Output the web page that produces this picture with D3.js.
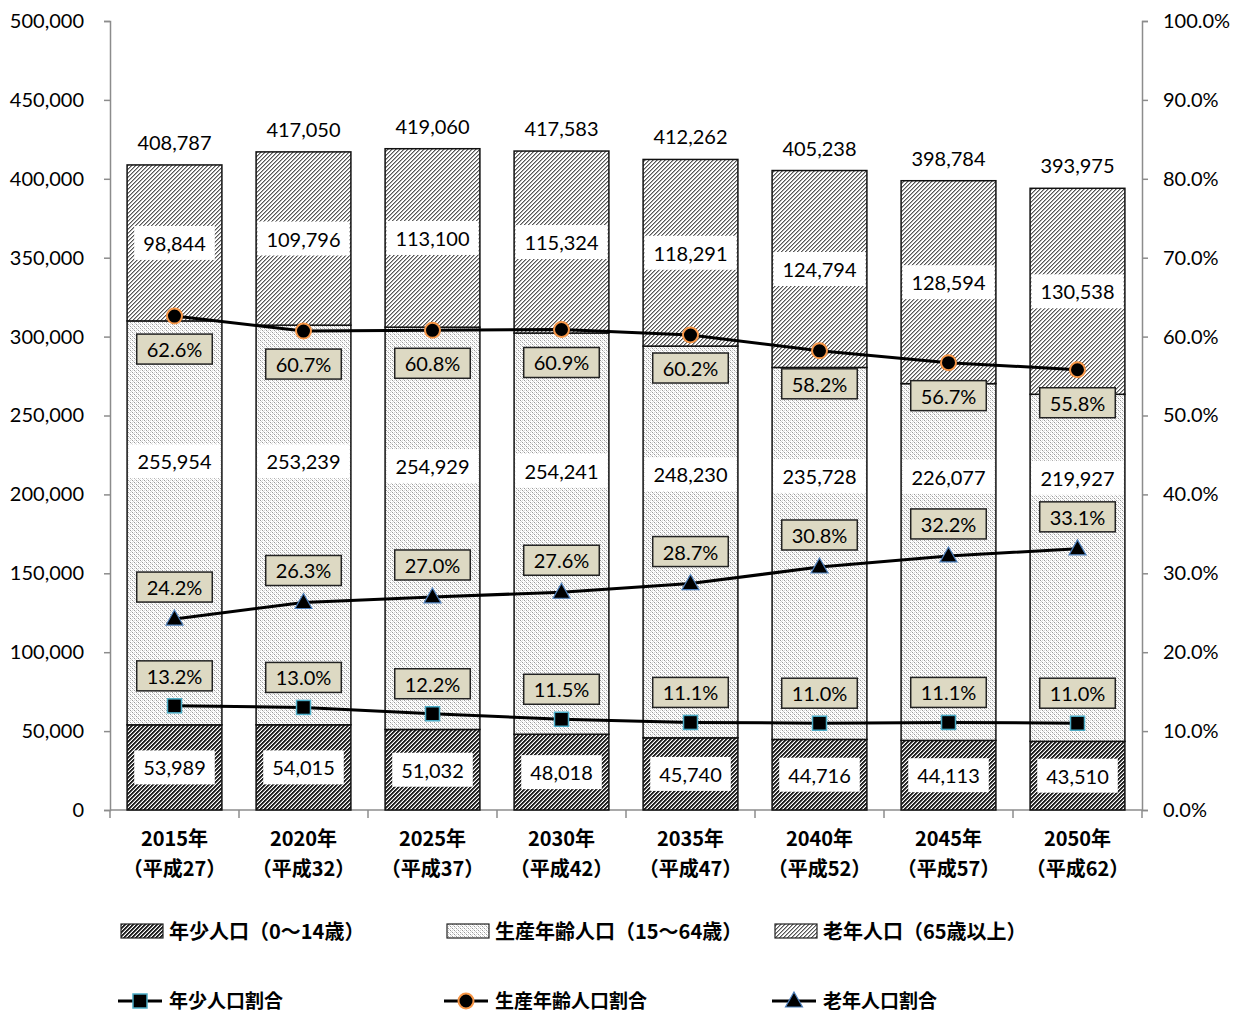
<!DOCTYPE html>
<html>
<head>
<meta charset="utf-8">
<script src="https://cdn.jsdelivr.net/npm/d3@7"></script>
<style>
  html, body { margin: 0; padding: 0; background: #fff; }
  svg { display: block; }
  text { font-family: Lato, "Noto Sans CJK JP", sans-serif; fill: #000; }
  .jp { font-family: "Noto Sans CJK JP", sans-serif; }
</style>
</head>
<body>
<svg id="chart" width="1240" height="1014"></svg>
<script>
// Population by age group (persons)
const categories = ["2015年", "2020年", "2025年", "2030年", "2035年", "2040年", "2045年", "2050年"];
const eraLabels = ["（平成27）", "（平成32）", "（平成37）", "（平成42）", "（平成47）", "（平成52）", "（平成57）", "（平成62）"];
const young   = [53989, 54015, 51032, 48018, 45740, 44716, 44113, 43510];
const working = [255954, 253239, 254929, 254241, 248230, 235728, 226077, 219927];
const old     = [98844, 109796, 113100, 115324, 118291, 124794, 128594, 130538];
const totals  = [408787, 417050, 419060, 417583, 412262, 405238, 398784, 393975];

// Shares of total population (%)
const youngPct   = [13.2, 13.0, 12.2, 11.5, 11.1, 11.0, 11.1, 11.0];
const workingPct = [62.6, 60.7, 60.8, 60.9, 60.2, 58.2, 56.7, 55.8];
const oldPct     = [24.2, 26.3, 27.0, 27.6, 28.7, 30.8, 32.2, 33.1];

const leftTicks  = [0, 50000, 100000, 150000, 200000, 250000, 300000, 350000, 400000, 450000, 500000];
const rightTicks = [0, 10, 20, 30, 40, 50, 60, 70, 80, 90, 100];

const barNames  = ["年少人口（0～14歳）", "生産年齢人口（15～64歳）", "老年人口（65歳以上）"];
const lineNames = ["年少人口割合", "生産年齢人口割合", "老年人口割合"];

const svg = d3.select("#chart");
const plot = { left: 110, right: 1142, top: 21, bottom: 810 };

const x = d3.scaleBand().domain(categories).range([plot.left, plot.right]).paddingInner(0.265).paddingOuter(0.1325);
const y = d3.scaleLinear().domain([0, 500000]).range([plot.bottom, plot.top]);
const yPct = d3.scaleLinear().domain([0, 100]).range([plot.bottom, plot.top]);
const cx = c => x(c) + x.bandwidth() / 2;

// ---- fill patterns ----
const defs = svg.append("defs");
function pixelPattern(id, bg, cells) {
  const p = defs.append("pattern").attr("id", id).attr("patternUnits", "userSpaceOnUse")
    .attr("width", 4).attr("height", 4);
  p.append("rect").attr("width", 4).attr("height", 4).attr("fill", bg);
  cells.forEach(([cx_, cy_, col]) => p.append("rect").attr("x", cx_).attr("y", cy_)
    .attr("width", 1).attr("height", 1).attr("fill", col).attr("shape-rendering", "crispEdges"));
}
// dense dark diagonal
pixelPattern("patYoung", "#ffffff", [
  [0,0,"#222"],[1,3,"#222"],[2,2,"#222"],[3,1,"#222"],
  [1,0,"#222"],[2,3,"#222"],[3,2,"#222"],[0,1,"#222"],
  [2,0,"#888"],[3,3,"#888"],[0,2,"#888"],[1,1,"#888"]
]);
// light dotted
pixelPattern("patWorking", "#ffffff", [
  [0,0,"#9a9a9a"],[2,2,"#9a9a9a"],[1,1,"#d0d0d0"],[3,3,"#d0d0d0"],[2,0,"#d8d8d8"],[0,2,"#d8d8d8"]
]);
// medium diagonal
pixelPattern("patOld", "#ffffff", [
  [0,0,"#555"],[1,3,"#555"],[2,2,"#555"],[3,1,"#555"],
  [1,0,"#aaa"],[2,3,"#aaa"],[3,2,"#aaa"],[0,1,"#aaa"]
]);
const fills = ["url(#patYoung)", "url(#patWorking)", "url(#patOld)"];

// ---- axes ----
const axisColor = "#8c8c8c";
const gl = svg.append("g").attr("transform", `translate(${plot.left},0)`)
  .call(d3.axisLeft(y).tickValues(leftTicks).tickSize(6).tickPadding(20).tickFormat(d3.format(",")));
const gr = svg.append("g").attr("transform", `translate(${plot.right},0)`)
  .call(d3.axisRight(yPct).tickValues(rightTicks).tickSize(6).tickPadding(15).tickFormat(d => d.toFixed(1) + "%"));
[gl, gr].forEach(g => {
  g.select(".domain").attr("stroke", axisColor).attr("stroke-width", 1.5);
  g.selectAll(".tick line").attr("stroke", axisColor).attr("stroke-width", 1.5);
  g.selectAll(".tick text").attr("font-size", 20).attr("font-family", "Lato, sans-serif");
});

// bottom axis: baseline and ticks between categories
const bottom = svg.append("g");
bottom.append("line").attr("x1", plot.left).attr("x2", plot.right)
  .attr("y1", plot.bottom).attr("y2", plot.bottom).attr("stroke", axisColor).attr("stroke-width", 1.5);
d3.range(categories.length + 1).forEach(i => {
  const xx = plot.left + i * (plot.right - plot.left) / categories.length;
  bottom.append("line").attr("x1", xx).attr("x2", xx).attr("y1", plot.bottom).attr("y2", plot.bottom + 8)
    .attr("stroke", axisColor).attr("stroke-width", 1.5);
});
categories.forEach((c, i) => {
  bottom.append("text").attr("class", "jp").attr("x", cx(c)).attr("y", 846)
    .attr("text-anchor", "middle").attr("font-size", 20).attr("font-weight", 700).text(c);
  bottom.append("text").attr("class", "jp").attr("x", cx(c)).attr("y", 876)
    .attr("text-anchor", "middle").attr("font-size", 20).attr("font-weight", 700).text(eraLabels[i]);
});

// ---- stacked bars ----
const rows = categories.map((c, i) => ({ cat: c, young: young[i], working: working[i], old: old[i] }));
const stack = d3.stack().keys(["young", "working", "old"])(rows);
const barG = svg.append("g");
stack.forEach((layer, k) => {
  barG.selectAll(null).data(layer).join("rect")
    .attr("x", d => x(d.data.cat))
    .attr("y", d => y(d[1]))
    .attr("width", x.bandwidth())
    .attr("height", d => y(d[0]) - y(d[1]))
    .attr("fill", fills[k])
    .attr("stroke", "#111").attr("stroke-width", 1.5);
});

// value labels in boxes
function boxedLabel(g, cxv, cyv, txt, opts) {
  const t = g.append("text").attr("x", cxv).attr("y", cyv).attr("text-anchor", "middle")
    .attr("dominant-baseline", "central").attr("font-size", 20).text(txt);
  const w = t.node().getComputedTextLength();
  g.insert("rect", () => t.node())
    .attr("x", cxv - w / 2 - opts.padX).attr("y", cyv - opts.h / 2)
    .attr("width", w + 2 * opts.padX).attr("height", opts.h)
    .attr("fill", opts.fill).attr("stroke", opts.stroke || "none").attr("stroke-width", opts.sw || 0);
}
const labelG = svg.append("g");
const workingLabelLift = 167000; // working-age label sits this far above the young segment top
rows.forEach((r, i) => {
  const c = cx(r.cat);
  boxedLabel(labelG, c, y(r.young / 2), d3.format(",")(r.young), { padX: 9, h: 34, fill: "#fff" });
  boxedLabel(labelG, c, y(r.young + workingLabelLift), d3.format(",")(r.working), { padX: 9, h: 34, fill: "#fff" });
  boxedLabel(labelG, c, y(r.young + r.working + r.old / 2), d3.format(",")(r.old), { padX: 9, h: 34, fill: "#fff" });
  labelG.append("text").attr("x", c).attr("y", y(totals[i]) - 23).attr("text-anchor", "middle")
    .attr("dominant-baseline", "central").attr("font-size", 20).text(d3.format(",")(totals[i]));
});

// ---- share lines ----
const line = d3.line().x((d, i) => cx(categories[i])).y(d => yPct(d));
const series = [
  { vals: youngPct, marker: "square", stroke: "#4bacc6", labelDy: -30 },
  { vals: workingPct, marker: "circle", stroke: "#f79646", labelDy: 33 },
  { vals: oldPct, marker: "triangle", stroke: "#4f81bd", labelDy: -32 }
];
function drawMarker(g, type, px, py, stroke) {
  if (type === "square") {
    g.append("rect").attr("x", px - 7).attr("y", py - 7).attr("width", 14).attr("height", 14)
      .attr("fill", "#000").attr("stroke", stroke).attr("stroke-width", 1.5);
  } else if (type === "circle") {
    g.append("circle").attr("cx", px).attr("cy", py).attr("r", 7.5)
      .attr("fill", "#000").attr("stroke", stroke).attr("stroke-width", 2);
  } else {
    g.append("path").attr("d", `M${px},${py - 9}L${px + 8.5},${py + 6}L${px - 8.5},${py + 6}Z`)
      .attr("fill", "#000").attr("stroke", stroke).attr("stroke-width", 1.2);
  }
}
const lineG = svg.append("g");
series.forEach(s => {
  lineG.append("path").attr("d", line(s.vals)).attr("fill", "none")
    .attr("stroke", "#000").attr("stroke-width", 3);
});
series.forEach(s => {
  s.vals.forEach((v, i) => {
    drawMarker(lineG, s.marker, cx(categories[i]), yPct(v), s.stroke);
    boxedLabel(lineG, cx(categories[i]), yPct(v) + s.labelDy, v.toFixed(1) + "%",
      { padX: 10, h: 30, fill: "#ddd9c3", stroke: "#222", sw: 1.5 });
  });
});

// ---- legend ----
const legend = svg.append("g");
const legendX = [121, 447, 775];
barNames.forEach((n, k) => {
  legend.append("rect").attr("x", legendX[k]).attr("y", 924).attr("width", 42).attr("height", 14)
    .attr("fill", fills[k]).attr("stroke", "#222").attr("stroke-width", 1.2);
  legend.append("text").attr("class", "jp").attr("x", legendX[k] + 48).attr("y", 930)
    .attr("dominant-baseline", "central").attr("font-size", 20).attr("font-weight", 700).text(n);
});
lineNames.forEach((n, k) => {
  const lx = legendX[k] - 3;
  legend.append("line").attr("x1", lx).attr("x2", lx + 44).attr("y1", 1001).attr("y2", 1001)
    .attr("stroke", "#000").attr("stroke-width", 3);
  drawMarker(legend, series[k].marker, lx + 22, 1001, series[k].stroke);
  legend.append("text").attr("class", "jp").attr("x", legendX[k] + 48).attr("y", 999)
    .attr("dominant-baseline", "central").attr("font-size", 19).attr("font-weight", 700).text(n);
});
</script>
</body>
</html>
